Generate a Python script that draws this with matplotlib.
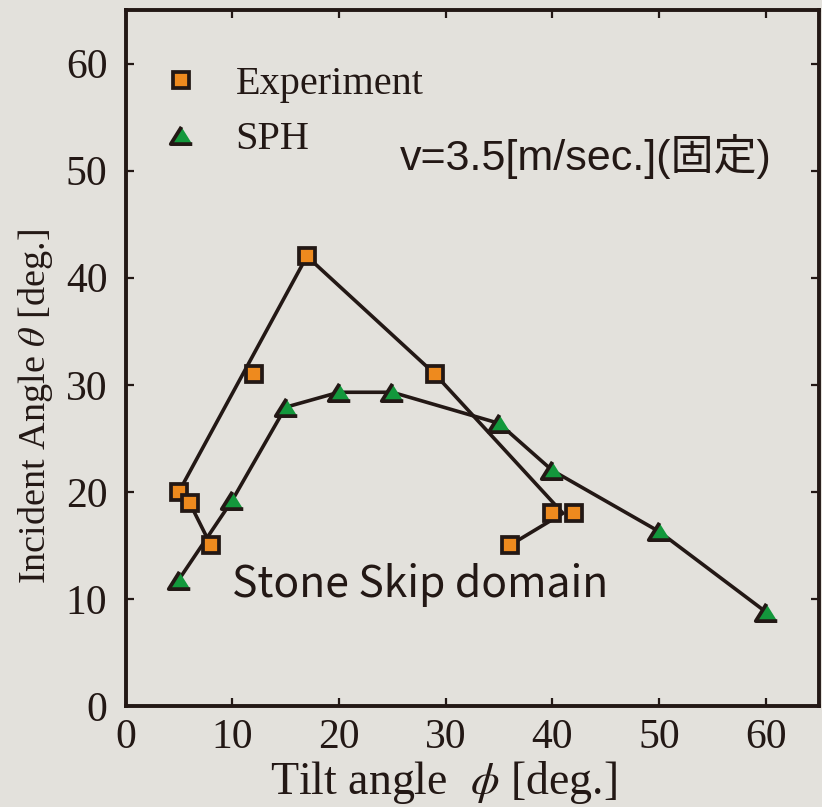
import matplotlib.pyplot as plt
from matplotlib.lines import Line2D

# ===== データ
# 実験値 (Experiment)
exp_phi = [5, 6, 8, 12, 17, 29, 36, 40, 42]
exp_theta = [20, 19, 15, 31, 42, 31, 15, 18, 18]
# 実験値の境界線
exp_line_phi = [8, 6, 5, 17, 29, 41, 36]
exp_line_theta = [15, 19, 20, 42, 31, 18, 15]
# SPH計算
sph_phi = [5, 10, 15, 20, 25, 35, 40, 50, 60]
sph_theta = [11.8, 19.2, 27.9, 29.3, 29.3, 26.4, 22.0, 16.3, 8.8]

ticks = [0, 10, 20, 30, 40, 50, 60]

INK = "#231815"
ORANGE = "#EE8A1E"
GREEN = "#13983C"
BG = "#E3E1DC"
TRI = [(0, 0.8), (-1, -0.8), (1, -0.8)]


def main():
    """メイン関数"""
    plt.rcParams["mathtext.fontset"] = "stix"
    serif = "Liberation Serif"

    fig = plt.figure(figsize=(8.22, 8.07), dpi=100, facecolor=BG)
    ax = fig.add_axes([125.5 / 822, 101 / 807, 693.5 / 822, 696 / 807])
    ax.set_facecolor(BG)

    # 線
    ax.plot(exp_line_phi, exp_line_theta, color=INK, lw=2.6, zorder=2)
    ax.plot(sph_phi, sph_theta, color=INK, lw=2.6, zorder=2)
    # マーカー
    mk_sq = dict(ls="none", marker="s", ms=11, mfc=ORANGE, mec=INK, mew=2.7)
    mk_tri = dict(ls="none", marker=TRI, ms=15.5, mfc=GREEN, mec=INK, mew=2.7)
    ax.plot(exp_phi, exp_theta, zorder=3, **mk_sq)
    ax.plot(sph_phi, sph_theta, zorder=3, **mk_tri)

    ax.set_xlim(0, 65)
    ax.set_ylim(0, 65)
    ax.set_xticks(ticks)
    ax.set_yticks(ticks)
    ax.tick_params(direction="in", length=6, width=1.6, top=True, right=True,
                   color=INK, labelcolor=INK, labelsize=30)
    ax.tick_params(axis="x", pad=9)
    ax.tick_params(axis="y", pad=13)
    for lab in ax.get_xticklabels() + ax.get_yticklabels():
        lab.set_fontfamily(serif)
    for sp in ax.spines.values():
        sp.set_linewidth(2.8)
        sp.set_color(INK)

    ax.set_xlabel(r"Tilt angle  $\phi$ [deg.]", fontsize=33, family=serif,
                  color=INK)
    ax.set_ylabel(r"Incident Angle $\theta$ [deg.]", fontsize=27.5,
                  family=serif, color=INK)
    ax.xaxis.set_label_coords(0.459, -0.076)
    ax.yaxis.set_label_coords(-0.101, 0.43)

    # 凡例
    handles = [Line2D([], [], **mk_sq), Line2D([], [], **mk_tri)]
    ax.legend(handles, ["Experiment", "SPH"], loc="upper left",
              bbox_to_anchor=(-0.007, 0.972), frameon=False, numpoints=1,
              prop={"family": serif, "size": 29}, labelspacing=0.45,
              handletextpad=0.75, handlelength=1.2, labelcolor=INK)

    # 注記
    ax.text(25.7, 51.3, "v=3.5[m/sec.](固定)", fontsize=31, va="center",
            family=["Liberation Sans", "Noto Sans CJK JP"], color=INK)
    ax.text(10.0, 11.3, "Stone Skip domain", fontsize=30.7, va="center",
            family="Noto Sans CJK JP", color=INK)

    fig.savefig("out.png", dpi=100, facecolor=BG)


if __name__ == "__main__":
    main()
